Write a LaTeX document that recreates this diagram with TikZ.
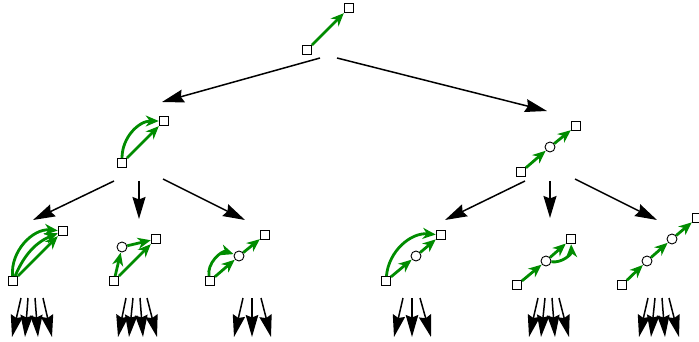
\documentclass[tikz,border=0pt]{standalone}
\usetikzlibrary{arrows.meta}
\definecolor{gr}{RGB}{0,140,0}
\tikzset{
  sq/.style={draw,rectangle,minimum size=9pt,inner sep=0pt,fill=white,line width=0.9pt},
  cc/.style={draw,circle,minimum size=10pt,inner sep=0pt,fill=white,line width=0.9pt},
  ge/.style={draw=gr,line width=2.8pt,-{Stealth[length=13pt,width=11pt,inset=4pt]},shorten >=0.3pt},
  big/.style={line width=1.5pt,-{Stealth[length=22pt,width=13pt,inset=2.5pt]}},
  fan/.style={line width=1.5pt,-{Stealth[length=22pt,width=12.5pt,inset=2.5pt]}},
}
\begin{document}
\begin{tikzpicture}[x=1pt,y=-1pt]
\useasboundingbox (0,0) rectangle (699,342);
% top
\node[sq] (t0) at (307,50) {};
\node[sq] (t1) at (349,8) {};
\draw[ge] (t0) -- (t1);
\coordinate (ta1) at (320,58); \coordinate (tb1) at (162,102);
\coordinate (ta2) at (337,58); \coordinate (tb2) at (547,111);
\draw[big] (ta1) -- (tb1);
\draw[big] (ta2) -- (tb2);
% level 2 left
\node[sq] (l0) at (122,163) {};
\node[sq] (l1) at (164,121) {};
\draw[ge] (l0) -- (l1);
\draw[ge] (l0) to[bend left=45] (l1);
% level 2 right
\node[sq] (r0) at (521,172) {};
\node[cc] (r1) at (550,147) {};
\node[sq] (r2) at (576,126) {};
\draw[ge] (r0) -- (r1);
\draw[ge] (r1) -- (r2);
% level 2 arrows
\coordinate (la1) at (114,181); \coordinate (lb1) at (33,220);
\coordinate (la2) at (139,181); \coordinate (lb2) at (139,219);
\coordinate (la3) at (163,179); \coordinate (lb3) at (245,220);
\coordinate (ra1) at (525,181); \coordinate (rb1) at (445,220);
\coordinate (ra2) at (550,181); \coordinate (rb2) at (550,218);
\coordinate (ra3) at (575,179); \coordinate (rb3) at (657,220);
\foreach \i in {1,2,3} {\draw[big] (la\i) -- (lb\i); \draw[big] (ra\i) -- (rb\i);}
% level 3 : 1
\node[sq] (a0) at (13,281) {};
\node[sq] (a1) at (63,231) {};
\draw[ge] (a0) -- (a1);
\draw[ge] (a0) to[bend left=22] (a1);
\draw[ge] (a0) to[bend left=50] (a1);
% 2
\node[sq] (b0) at (114,281) {};
\node[cc] (b1) at (122,247) {};
\node[sq] (b2) at (156,239) {};
\draw[ge] (b0) -- (b1);
\draw[ge] (b1) -- (b2);
\draw[ge] (b0) -- (b2);
% 3
\node[sq] (c0) at (210,281) {};
\node[cc] (c1) at (239,256) {};
\node[sq] (c2) at (265,235) {};
\draw[ge] (c0) -- (c1);
\draw[ge] (c0) to[bend left=60] (c1);
\draw[ge] (c1) -- (c2);
% 4
\node[sq] (d0) at (386,281) {};
\node[cc] (d1) at (416,256) {};
\node[sq] (d2) at (441,235) {};
\draw[ge] (d0) -- (d1);
\draw[ge] (d1) -- (d2);
\draw[ge] (d0) to[bend left=45] (d2);
% 5
\node[sq] (e0) at (517,285) {};
\node[cc] (e1) at (546,261) {};
\node[sq] (e2) at (571,239) {};
\draw[ge] (e0) -- (e1);
\draw[ge] (e1) -- (e2);
\draw[ge] (e1) to[bend right=50] (e2);
% 6
\node[sq] (f0) at (622,285) {};
\node[cc] (f1) at (647,261) {};
\node[cc] (f2) at (672,239) {};
\node[sq] (f3) at (697,218) {};
\draw[ge] (f0) -- (f1);
\draw[ge] (f1) -- (f2);
\draw[ge] (f2) -- (f3);
% bottom fans
\foreach \n/\xa/\xb in {p1/21/12, p2/28/25, p3/35/38, p4/43/52,
  q1/126/118, q2/133/129, q3/140/143, q4/147/157,
  s1/243/234, s2/252/252, s3/261/271,
  u1/403/394, u2/412/412, u3/420/431,
  v1/538/529, v2/545/541, v3/552/555, v4/559/569,
  w1/648/639, w2/655/651, w3/662/665, w4/669/679} {
  \coordinate (\n a) at (\xa,298);
  \coordinate (\n b) at (\xb,337);
  \draw[fan] (\n a) -- (\n b);
}
\end{tikzpicture}
\end{document}
